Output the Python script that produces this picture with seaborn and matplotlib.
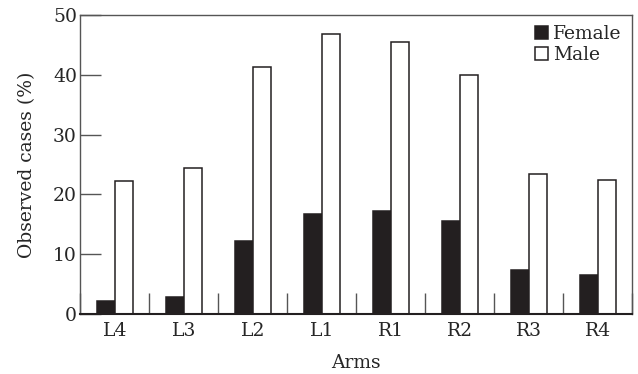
import pandas as pd
import numpy as np
import seaborn as sns
import matplotlib
matplotlib.use('Agg')
import matplotlib.pyplot as plt
from matplotlib.ticker import FixedLocator

# values
arms = ['L4', 'L3', 'L2', 'L1', 'R1', 'R2', 'R3', 'R4']
female = [2.2, 2.9, 12.2, 16.8, 17.3, 15.6, 7.4, 6.5]
male = [22.2, 24.4, 41.3, 46.8, 45.5, 39.9, 23.5, 22.5]
yticks = [0, 10, 20, 30, 40, 50]

df = pd.DataFrame({
    'Arms': arms * 2,
    'value': female + male,
    'Sex': ['Female'] * len(arms) + ['Male'] * len(arms),
})

sns.set_style('ticks')
plt.rcParams['font.family'] = ['DejaVu Serif']
ink = '#231f20'
fs = 13.5

fig = plt.figure(figsize=(6.38, 3.74), dpi=100)
ax = fig.add_axes([0.126, 0.16, 0.865, 0.80])

sns.barplot(data=df, x='Arms', y='value', hue='Sex', order=arms,
            palette={'Female': ink, 'Male': 'white'}, edgecolor=ink,
            linewidth=1.1, width=0.52, saturation=1, ax=ax)

ax.set_xlim(-0.5, len(arms) - 0.5)
ax.set_ylim(0, 50)
ax.set_yticks(yticks)
ax.set_xlabel('Arms', fontsize=fs, labelpad=10)
ax.set_ylabel('Observed cases (%)', fontsize=fs, labelpad=12)
ax.tick_params(axis='y', direction='in', length=15, width=1, labelsize=fs, color='#555555', pad=2.5)
ax.tick_params(axis='x', which='major', length=0, labelsize=fs, pad=6)
# separators between the arm groups
ax.xaxis.set_minor_locator(FixedLocator(np.arange(-0.5, len(arms), 1.0)))
ax.tick_params(axis='x', which='minor', direction='in', length=15, width=1, color='#555555')
for s in ax.spines.values():
    s.set_visible(True)
    s.set_color('#555555')
    s.set_linewidth(1)
ax.spines['bottom'].set_color(ink)
ax.spines['bottom'].set_linewidth(1.5)

leg = ax.legend(loc='upper right', frameon=False, fontsize=fs, handlelength=0.7,
                handleheight=0.7, handletextpad=0.3, labelspacing=0.15,
                borderaxespad=0.15)

fig.savefig('out.png', dpi=100)
